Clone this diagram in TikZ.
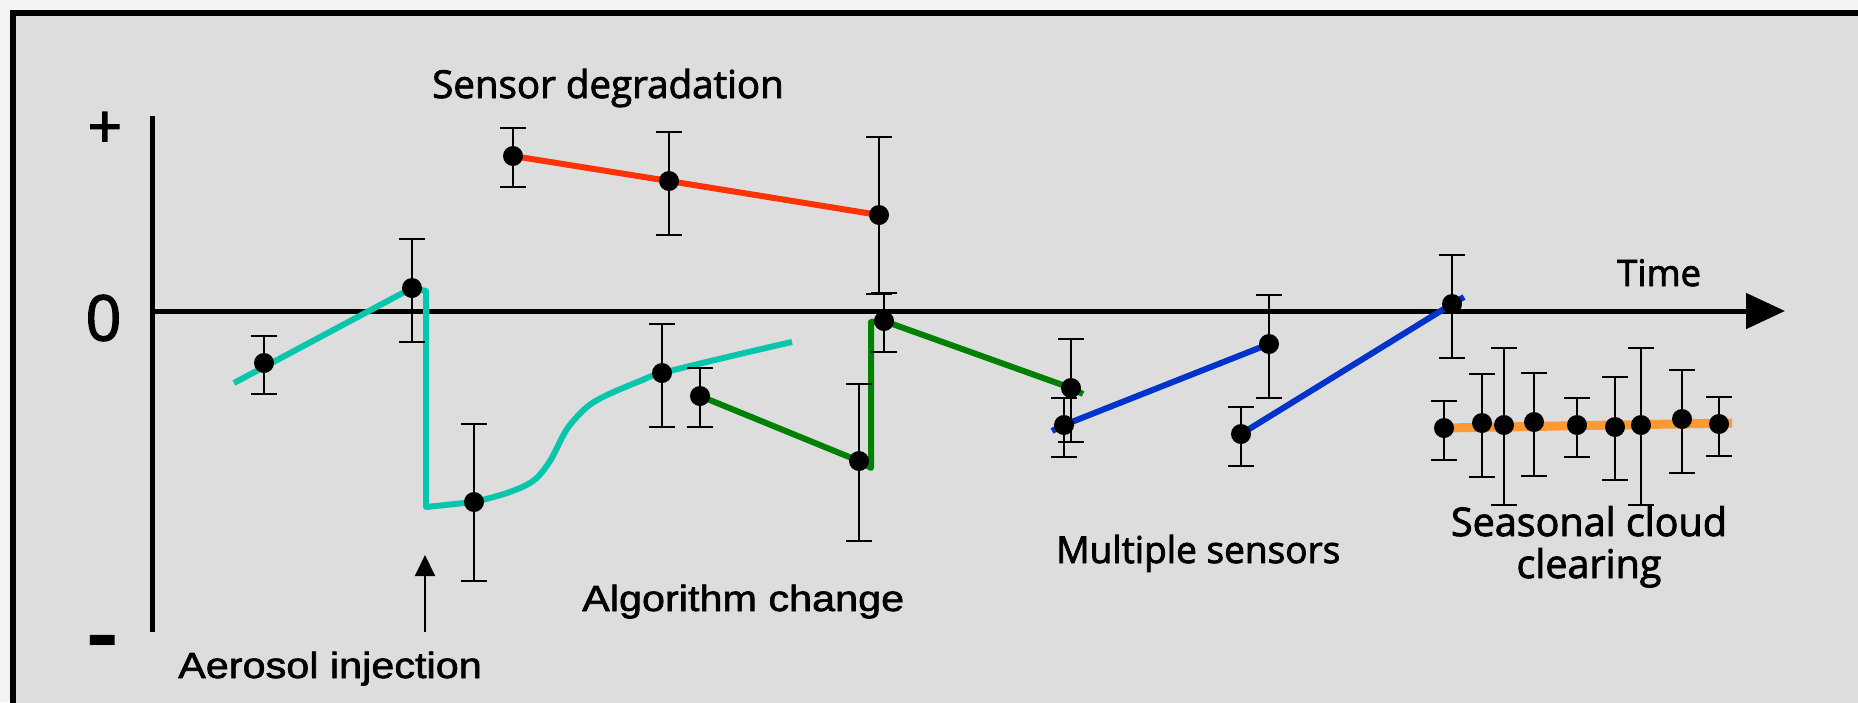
\documentclass[tikz,border=0pt]{standalone}
\usepackage{fontspec}
\setmainfont{Open Sans}[FakeBold=2]
\newfontfamily\labelfont{Open Sans}[FakeBold=2.2]
\newfontfamily\arialfont{Liberation Sans}[FakeStretch=1.14, FakeBold=1.8]
\newfontfamily\minusfont{Liberation Sans Bold}[FakeStretch=1.15]
\usetikzlibrary{arrows.meta}

\definecolor{panelgrey}{HTML}{DDDDDD}
\definecolor{pagewhite}{HTML}{F3F3F3}
\definecolor{degred}{HTML}{FF3300}
\definecolor{aerocyan}{RGB}{8,198,172}
\definecolor{algogreen}{HTML}{008000}
\definecolor{sensblue}{HTML}{0033CC}
\definecolor{cloudorange}{HTML}{FF9933}

\tikzset{
  series/.style={line width=6pt, line join=round},
  ebarline/.style={line width=2pt, black},
  datapt/.style={circle, fill=black, inner sep=0pt, minimum size=20pt},
  axisline/.style={line width=5pt, black},
  humanist/.style={font=\labelfont\fontsize{#1}{42}\selectfont, inner sep=0pt},
  humanist/.default=37.5,
  grotesk/.style={font=\arialfont\fontsize{36.3}{40}\selectfont, inner sep=0pt},
}

% error bar: x, upper end, lower end (caps 26pt wide)
\newcommand\errbar[3]{%
  \draw[ebarline] (#1,#2) -- (#1,#3)
    (#1-13,#2) -- (#1+13,#2) (#1-13,#3) -- (#1+13,#3);}

\begin{document}
\begin{tikzpicture}[x=1pt,y=-1pt]
\useasboundingbox (0,0) rectangle (1858,702);
\fill[pagewhite] (0,0) rectangle (1858,702);
\begin{scope}
  \clip (0,0) rectangle (1858,702);
  \draw[line width=6pt, fill=panelgrey] (13,13) rectangle (1890,740);
\end{scope}

% axes
\coordinate (ytop) at (152,116);
\coordinate (ybot) at (152,632);
\coordinate (origin) at (150,311);
\coordinate (xend) at (1785,311);
\draw[axisline] (ytop) -- (ybot);
\draw[axisline, -{Triangle[length=39pt,width=35pt]}] (origin) -- (xend);

% data points
\coordinate (p1) at (513,156);
\coordinate (p2) at (669,181);
\coordinate (p3) at (879,215);
\coordinate (q1) at (264,363);
\coordinate (q2) at (412,288);
\coordinate (q3) at (474,502);
\coordinate (q4) at (662,373);
\coordinate (g1) at (700,396);
\coordinate (g2) at (859,461);
\coordinate (g3) at (884,321);
\coordinate (g4) at (1071,388);
\coordinate (b1) at (1064,425);
\coordinate (b2) at (1269,344);
\coordinate (b3) at (1241,434);
\coordinate (b4) at (1452,304);
\coordinate (o1) at (1444,428);
\coordinate (o2) at (1482,423);
\coordinate (o3) at (1504,425);
\coordinate (o4) at (1534,422);
\coordinate (o5) at (1577,425);
\coordinate (o6) at (1615,427);
\coordinate (o7) at (1641,425);
\coordinate (o8) at (1682,419);
\coordinate (o9) at (1719,424);

% sensor degradation
\draw[series, degred] (p1) -- (p2) -- (p3);

% aerosol injection
\draw[series, aerocyan] (234,383) -- (q2) -- (426,291) -- (426,507) -- (q3);
\draw[series, aerocyan] plot[smooth, tension=0.55] coordinates
  {(q3) (507,493) (533,481) (550,461) (567,429) (587,407) (607,395)
   (640,381) (q4) (740,354) (792,342)};

% algorithm change
\draw[series, algogreen] (g1) -- (g2) -- (871,468) -- (871,322) -- (g3)
  -- (g4) -- (1083,394);

% multiple sensors
\draw[series, sensblue] (1052,431) -- (b1) -- (b2);
\draw[series, sensblue] (b3) -- (b4) -- (1464,297);

% seasonal cloud clearing
\draw[cloudorange, line width=9pt] (o1) -- (1732,423);

% error bars
\errbar{513}{128}{187}
\errbar{669}{132}{235}
\errbar{879}{137}{294}
\errbar{264}{336}{394}
\errbar{412}{239}{342}
\errbar{474}{424}{581}
\errbar{662}{324}{427}
\errbar{700}{368}{427}
\errbar{859}{384}{541}
\errbar{884}{293}{352}
\errbar{1071}{339}{442}
\errbar{1064}{398}{457}
\errbar{1269}{295}{398}
\errbar{1241}{407}{466}
\errbar{1452}{255}{358}
\errbar{1444}{401}{460}
\errbar{1482}{374}{477}
\errbar{1504}{348}{505}
\errbar{1534}{373}{476}
\errbar{1577}{398}{457}
\errbar{1615}{377}{480}
\errbar{1641}{348}{505}
\errbar{1682}{370}{473}
\errbar{1719}{397}{456}

% markers
\foreach \pt in {p1,p2,p3,q1,q2,q3,q4,g1,g2,g3,g4,b1,b2,b3,b4,
                 o1,o2,o3,o4,o5,o6,o7,o8,o9}
  \node[datapt] (m\pt) at (\pt) {};

% aerosol injection pointer
\coordinate (aerotail) at (425,632);
\coordinate (aerotip) at (425,555);
\draw[line width=2pt, -{Triangle[length=21pt,width=20pt]}] (aerotail) -- (aerotip);

% axis labels
\node[inner sep=0pt, font=\labelfont\fontsize{60}{64}\selectfont] (plus) at (105,130) {+};
\node[inner sep=0pt, font=\fontsize{63}{66}\selectfont] (zero) at (103.5,318) {0};
\node[inner sep=0pt, anchor=base, font=\minusfont\fontsize{85}{88}\selectfont] (minus) at (103,662) {-};

% annotations
\node[humanist=38.5, anchor=base west] (tsensor) at (432,98) {Sensor degradation};
\node[humanist=36.5, anchor=base west] (ttime) at (1617,286) {Time};
\node[humanist=37, anchor=base west] (tmulti) at (1056,563) {Multiple sensors};
\node[humanist=39.5, anchor=base] (tseason) at (1589,536) {Seasonal cloud};
\node[humanist=39.5, anchor=base] (tclear) at (1589,578) {clearing};
\node[grotesk, anchor=base west] (taero) at (178,678) {Aerosol injection};
\node[grotesk, anchor=base west] (talgo) at (582,611) {Algorithm change};
\end{tikzpicture}
\end{document}
